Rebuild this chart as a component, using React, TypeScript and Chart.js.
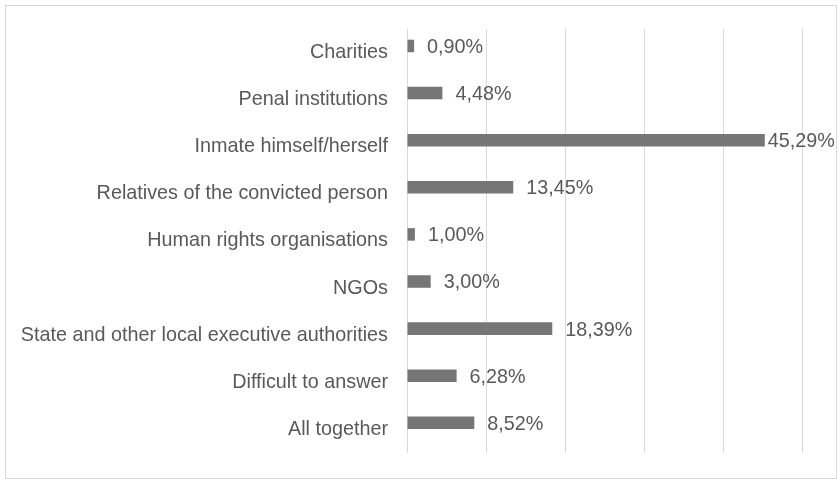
import React, { useEffect, useRef } from "react";
import { Chart, registerables } from "chart.js";

Chart.register(...registerables);

const categories = [
  "Charities",
  "Penal institutions",
  "Inmate himself/herself",
  "Relatives of the convicted person",
  "Human rights organisations",
  "NGOs",
  "State and other local executive authorities",
  "Difficult to answer",
  "All together",
];
const values = [0.9, 4.48, 45.29, 13.45, 1.0, 3.0, 18.39, 6.28, 8.52];
const valueLabels = ["0,90%", "4,48%", "45,29%", "13,45%", "1,00%", "3,00%", "18,39%", "6,28%", "8,52%"];
const xMin = 0;
const xMax = 50;
const xStep = 10;

const FONT = "'Liberation Sans', Arial, sans-serif";
const TEXT = "#595959";

const labelPlugin = {
  id: "valueLabels",
  afterDatasetsDraw(chart: any) {
    const ctx = chart.ctx;
    const meta = chart.getDatasetMeta(0);
    ctx.save();
    ctx.font = `19.8px ${FONT}`;
    ctx.fillStyle = TEXT;
    ctx.textAlign = "left";
    ctx.textBaseline = "middle";
    meta.data.forEach((bar: any, i: number) => {
      const txt = valueLabels[i];
      const w = ctx.measureText(txt).width;
      let x = bar.x + 13;
      if (x + w > chart.width - 4) x = bar.x + 3;
      ctx.fillText(txt, x, bar.y + 1.5);
    });
    ctx.restore();
  },
};

export default function App() {
  const ref = useRef<HTMLCanvasElement>(null);
  useEffect(() => {
    if (!ref.current) return;
    const chart = new Chart(ref.current, {
      type: "bar",
      data: {
        labels: categories,
        datasets: [
          {
            data: values,
            backgroundColor: "#767676",
            categoryPercentage: 0.56,
            barPercentage: 0.95,
          },
          {
            data: categories.map(() => null),
            backgroundColor: "#767676",
            categoryPercentage: 0.56,
            barPercentage: 0.95,
          },
        ],
      },
      options: {
        indexAxis: "y",
        animation: false,
        responsive: false,
        layout: { padding: { top: 23, bottom: 25, right: 34, left: 0 } },
        plugins: { legend: { display: false }, tooltip: { enabled: false } },
        scales: {
          x: {
            min: xMin,
            max: xMax,
            ticks: { display: false, stepSize: xStep },
            grid: { color: "#d9d9d9", drawTicks: false, lineWidth: 1 },
            border: { display: false },
            afterFit: (s: any) => {
              s.height = 0;
              s.paddingLeft = 0;
              s.paddingRight = 0;
            },
          },
          y: {
            ticks: {
              color: TEXT,
              font: { family: FONT, size: 19.8 },
              padding: 19,
              autoSkip: false,
            },
            grid: { display: false, drawTicks: false },
            border: { display: false },
            afterFit: (s: any) => {
              s.width = 401;
              s.paddingTop = 0;
              s.paddingBottom = 0;
            },
          },
        },
      },
      plugins: [labelPlugin],
    });
    return () => chart.destroy();
  }, []);
  return (
    <div
      style={{
        position: "fixed",
        left: 5,
        top: 5,
        width: 832,
        height: 474,
        border: "1px solid #d9d9d9",
        boxSizing: "border-box",
        background: "#fff",
      }}
    >
      <canvas ref={ref} width={830} height={472} style={{ display: "block" }} />
    </div>
  );
}
